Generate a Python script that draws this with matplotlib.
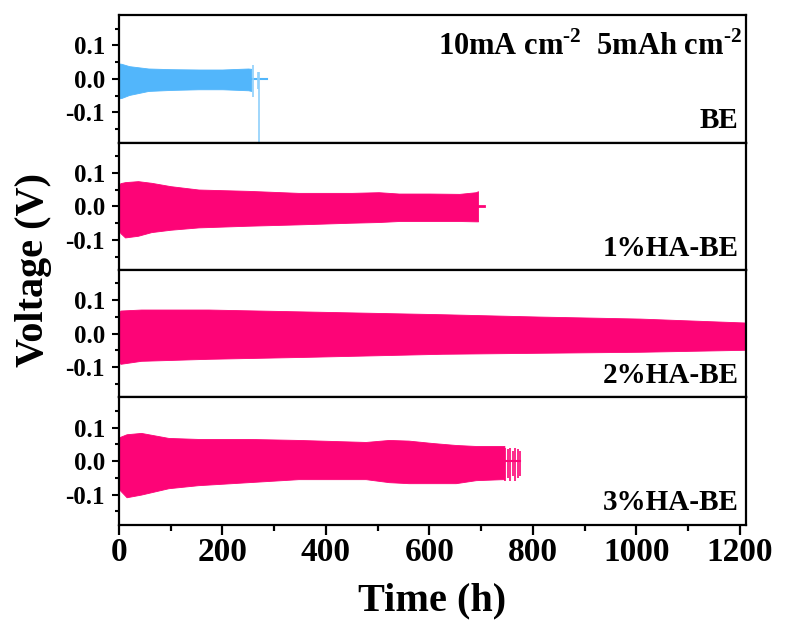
import matplotlib
matplotlib.use("Agg")
import matplotlib.pyplot as plt
from matplotlib.ticker import MultipleLocator

plt.rcParams["font.family"] = ["Liberation Serif", "DejaVu Serif"]
plt.rcParams["font.weight"] = "bold"
plt.rcParams["mathtext.fontset"] = "custom"
plt.rcParams["mathtext.rm"] = "Liberation Serif:bold"
plt.rcParams["mathtext.bf"] = "Liberation Serif:bold"

# envelopes of the voltage profiles (h, V)
be_t = [0, 5, 20, 57, 100, 154, 200, 250, 256]
be_hi = [0.046, 0.045, 0.038, 0.031, 0.029, 0.028, 0.028, 0.031, 0.030]
be_lo = [-0.058, -0.057, -0.048, -0.036, -0.033, -0.031, -0.031, -0.034, -0.036]
be_spike_t = [259, 268, 270]
be_spike_hi = [0.040, 0.020, 0.020]
be_spike_lo = [-0.055, -0.030, -0.250]
be_tail = [256, 286]

one_t = [0, 3, 12, 37, 63, 100, 154, 250, 347, 450, 502, 541, 600, 658, 690, 694]
one_hi = [0.062, 0.069, 0.072, 0.075, 0.070, 0.060, 0.050, 0.046, 0.040, 0.040,
          0.042, 0.038, 0.038, 0.037, 0.042, 0.045]
one_lo = [-0.070, -0.080, -0.093, -0.088, -0.077, -0.070, -0.063, -0.058, -0.054,
          -0.049, -0.047, -0.044, -0.044, -0.044, -0.045, -0.045]
one_tail = [694, 706]

two_t = [0, 3, 43, 173, 367, 625, 813, 1007, 1215]
two_hi = [0.060, 0.069, 0.072, 0.072, 0.066, 0.058, 0.051, 0.045, 0.033]
two_lo = [-0.080, -0.090, -0.081, -0.075, -0.069, -0.060, -0.057, -0.054, -0.048]

three_t = [0, 2, 15, 43, 96, 153, 250, 347, 477, 522, 560, 605, 651, 690, 742, 745]
three_hi = [0.065, 0.072, 0.080, 0.084, 0.069, 0.066, 0.066, 0.063, 0.057, 0.063,
            0.061, 0.054, 0.048, 0.045, 0.045, 0.045]
three_lo = [-0.080, -0.087, -0.108, -0.100, -0.081, -0.072, -0.063, -0.054, -0.054,
            -0.063, -0.066, -0.066, -0.066, -0.057, -0.054, -0.054]
three_spike_t = [747, 752, 756, 761, 766, 771, 775]
three_spike_hi = [0.040, 0.035, 0.040, 0.030, 0.040, 0.035, 0.030]
three_spike_lo = [-0.058, -0.050, -0.060, -0.045, -0.060, -0.050, -0.045]
three_tail = [745, 776]

labels = ["BE", "1%HA-BE", "2%HA-BE", "3%HA-BE"]
blue = "#52b6fb"
blue_light = "#8fd0fb"
pink = "#fd0477"

fig, axes = plt.subplots(4, 1, figsize=(7.87, 6.33), dpi=100, sharex=True)
fig.subplots_adjust(left=0.151, right=0.948, top=0.976, bottom=0.171, hspace=0)

envelopes = [(be_t, be_hi, be_lo, blue), (one_t, one_hi, one_lo, pink),
             (two_t, two_hi, two_lo, pink), (three_t, three_hi, three_lo, pink)]

for n, ax in enumerate(axes):
    t, hi, lo, c = envelopes[n]
    ax.fill_between(t, lo, hi, color=c, linewidth=0.6, edgecolor=c, zorder=2)

    ax.set_xlim(0, 1212)
    ax.set_ylim(-0.19, 0.19)
    ax.yaxis.set_major_locator(MultipleLocator(0.1))
    ax.yaxis.set_minor_locator(MultipleLocator(0.05))
    ax.xaxis.set_major_locator(MultipleLocator(200))
    ax.xaxis.set_minor_locator(MultipleLocator(100))
    ax.tick_params(axis="y", which="major", direction="out", length=5, width=1.5,
                   labelsize=18, pad=5, right=False)
    ax.tick_params(axis="y", which="minor", direction="out", length=3, width=1.5, right=False)
    ax.set_yticks([-0.1, 0.0, 0.1])
    ax.set_yticklabels(["-0.1", "0.0", "0.1"])
    for s in ax.spines.values():
        s.set_linewidth(1.6)

    ax.text(0.988, 0.065, labels[n], transform=ax.transAxes, ha="right", va="bottom",
            fontsize=21, fontweight="bold")

    if n < 3:
        ax.tick_params(axis="x", which="both", bottom=False, top=False)
    else:
        ax.tick_params(axis="x", which="major", direction="out", length=7, width=1.6,
                       labelsize=24, pad=2, top=False)
        ax.tick_params(axis="x", which="minor", direction="out", length=4, width=1.6, top=False)

# end-of-life features
axes[0].plot(be_tail, [0, 0], color=blue, linewidth=1.5, zorder=2)
axes[0].vlines(be_spike_t, be_spike_lo, be_spike_hi, color=blue_light, linewidth=1.2, zorder=2)
axes[1].plot(one_tail, [0, 0], color=pink, linewidth=2, zorder=2)
axes[3].plot(three_tail, [0, 0], color=pink, linewidth=1.5, zorder=2)
axes[3].vlines(three_spike_t, three_spike_lo, three_spike_hi, color=pink, linewidth=1.2, zorder=2)

axes[0].text(0.993, 0.87, r"10mA cm$^{\text{-}2}$  5mAh cm$^{\text{-}2}$", transform=axes[0].transAxes,
             ha="right", va="top", fontsize=22, fontweight="bold")

axes[3].set_xlabel("Time (h)", fontsize=29, fontweight="bold", labelpad=10)
fig.text(0.042, 0.573, "Voltage (V)", rotation=90, ha="center", va="center",
         fontsize=29, fontweight="bold")

plt.savefig("out.png", dpi=100)
plt.close()
